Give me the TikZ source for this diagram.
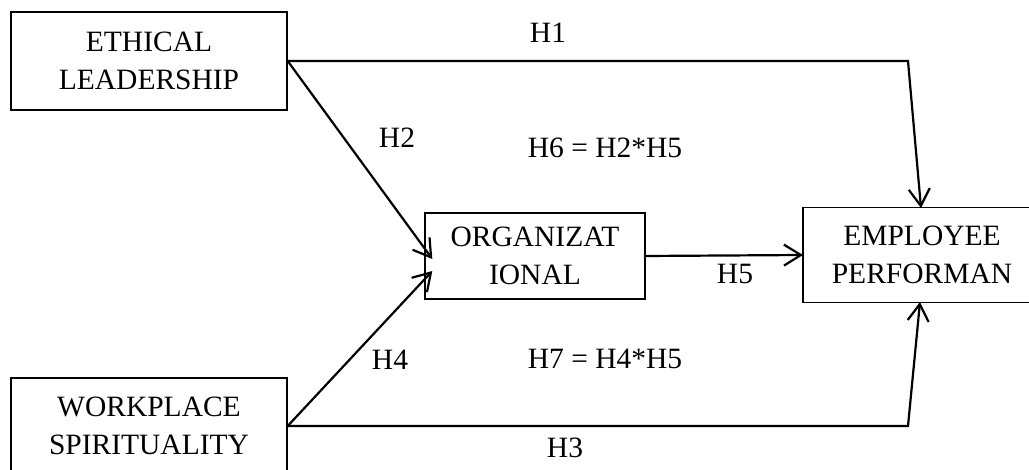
\documentclass[tikz,border=0pt]{standalone}
\usepackage{fontspec}
\setmainfont{Liberation Serif}
\usetikzlibrary{arrows.meta,calc}
\begin{document}
\begin{tikzpicture}[x=1pt,y=-1pt,
  box/.style={draw,line width=1.4pt,align=center,inner sep=0pt,
    font=\fontsize{29.5}{38}\selectfont},
  lbl/.style={font=\fontsize{29.5}{34}\selectfont,inner sep=0pt},
  conn/.style={line width=2.2pt,line join=miter},
  arr/.style={conn,-{Straight Barb[length=17pt,width=21pt,line width=2.2pt]}}]
\useasboundingbox (0,0) rectangle (1029,470);
\clip (0,0) rectangle (1029,470);
\node[box,minimum width=276pt,minimum height=98pt] (eth) at (149,61) {ETHICAL\\LEADERSHIP};
\node[box,minimum width=276pt,minimum height=96pt] (wp) at (149,426) {WORKPLACE\\SPIRITUALITY};
\node[box,minimum width=220pt,minimum height=86pt] (org) at (535,256) {ORGANIZAT\\IONAL};
\node[box,draw=none,minimum width=250pt,minimum height=94pt,anchor=west] (emp) at (803,255) {};
\draw[line width=1.4pt] (emp.north east) -- (emp.north west) -- (emp.south west) -- (emp.south east);
\node[font=\fontsize{29.5}{38}\selectfont,align=center,inner sep=0pt] (empt) at (922,255) {EMPLOYEE\\PERFORMAN};
\coordinate (c1) at (908,61);
\coordinate (c3) at (908,426);
\coordinate (e1) at (921,208);
\coordinate (e3) at (920,302);
\coordinate (t2) at ($(org.west)+(8,3)$);
\coordinate (t4) at ($(org.west)+(8,15)$);
\draw[arr] (eth.east) -- (c1) -- (e1);
\draw[arr] (eth.east) -- (t2);
\draw[arr] (wp.east) -- (t4);
\draw[arr] (wp.east) -- (c3) -- (e3);
\draw[arr] (org.east) -- (emp.west);
\node[lbl] (h1) at (548,33) {H1};
\node[lbl] (h2) at (397,138) {H2};
\node[lbl] (h6) at (605,148) {H6 = H2*H5};
\node[lbl] (h4) at (390,360) {H4};
\node[lbl] (h7) at (605,359) {H7 = H4*H5};
\node[lbl] (h3) at (565,448) {H3};
\node[lbl] (h5) at (735,274) {H5};
\end{tikzpicture}
\end{document}
